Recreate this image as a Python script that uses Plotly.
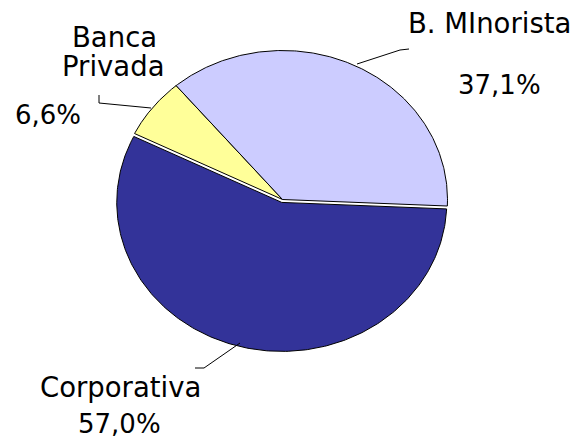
import numpy as np
import plotly.graph_objects as go

# ---- data ----
labels = ["Corporativa", "Banca Privada", "B. MInorista"]
values = [57.0, 6.6, 37.1]
pct_labels = ["57,0%", "6,6%", "37,1%"]
colors = ["#333399", "#FFFF99", "#CCCCFF"]
pull_px = [3, 0, 0]

# ---- geometry (layout constants) ----
W, H = 579, 439
cx, cy, rx, ry = 282.5, 199.5, 165.0, 149.0
start_deg = 2.5  # clockwise from 3 o'clock

fig = go.Figure()
total = sum(values)
ang = start_deg
for lab, v, col, p, pl in zip(labels, values, colors, pull_px, pct_labels):
    span = v / total * 360.0
    t = np.radians(np.linspace(ang, ang + span, 240))
    mid = np.radians(ang + span / 2)
    ox, oy = p * np.cos(mid), p * np.sin(mid)
    xs = np.concatenate([[cx], cx + rx * np.cos(t), [cx]]) + ox
    ys = np.concatenate([[cy], cy + ry * np.sin(t), [cy]]) + oy
    fig.add_trace(go.Scatter(
        x=xs, y=ys, fill="toself", fillcolor=col, mode="lines",
        line=dict(color="black", width=1), name=lab,
        hoverinfo="text", text=f"{lab}: {pl}", showlegend=False))
    ang += span

word_font = dict(family="DejaVu Sans", size=27.5, color="black")
num_font = dict(family="DejaVu Sans", size=26, color="black")
text_items = [
    ("B. MInorista", 489, 22.5, word_font),
    (pct_labels[2], 499, 84.5, num_font),
    ("Banca", 114, 36.5, word_font),
    ("Privada", 113, 66, word_font),
    (pct_labels[1], 48, 115, num_font),
    ("Corporativa", 120, 387, word_font),
    (pct_labels[0], 119, 424, num_font),
]
for txt, x, y, f in text_items:
    fig.add_annotation(text=txt, x=x, y=y, xref="x", yref="y",
                       showarrow=False, xanchor="center", yanchor="middle",
                       font=f)

leaders = [
    "M 99,95 L 99,103 L 151,108",
    "M 409,49 L 400,50 L 357,64",
    "M 195,368 L 204,368 L 240,343",
]
for pth in leaders:
    fig.add_shape(type="path", path=pth, xref="x", yref="y",
                  line=dict(color="black", width=1))

fig.update_xaxes(range=[0, W], visible=False, fixedrange=True)
fig.update_yaxes(range=[H, 0], visible=False, fixedrange=True)
fig.update_layout(width=W, height=H, margin=dict(l=0, r=0, t=0, b=0),
                  paper_bgcolor="white", plot_bgcolor="white")

fig.write_html(
    "out.html",
    config={"displayModeBar": False},
    post_script="document.body.style.margin='0';document.body.style.overflow='hidden';",
)
